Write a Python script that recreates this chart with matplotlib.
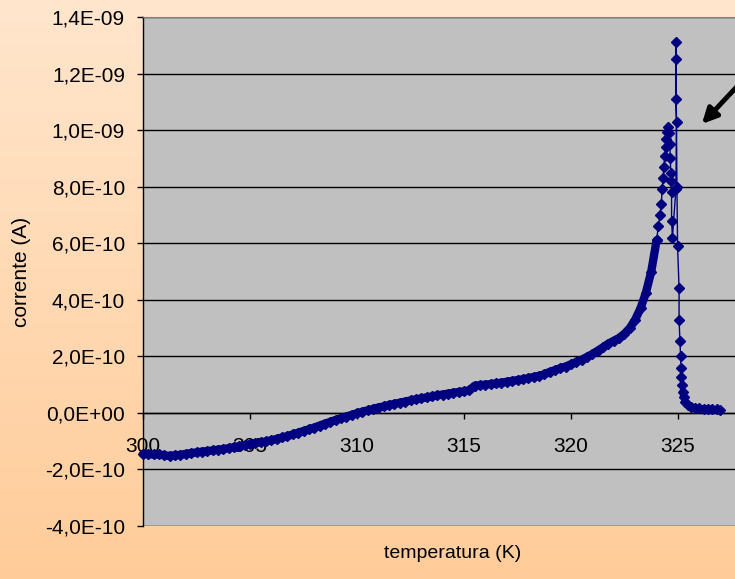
import matplotlib.pyplot as plt
import numpy as np
from matplotlib.ticker import FuncFormatter

# temperatura (K) e corrente (unidades de 1E-10 A)
temp = [300.0, 300.25, 300.5, 300.75, 301.0, 301.25, 301.5, 301.75,
        302.0, 302.25, 302.5, 302.75, 303.0, 303.25, 303.5, 303.75,
        304.0, 304.25, 304.5, 304.75, 305.0, 305.25, 305.5, 305.75,
        306.0, 306.25, 306.5, 306.75, 307.0, 307.25, 307.5, 307.75,
        308.0, 308.25, 308.5, 308.75, 309.0, 309.25, 309.5, 309.75,
        310.0, 310.25, 310.5, 310.75, 311.0, 311.25, 311.5, 311.75,
        312.0, 312.25, 312.5, 312.75, 313.0, 313.25, 313.5, 313.75,
        314.0, 314.25, 314.5, 314.75, 315.0, 315.25, 315.5, 315.75,
        316.0, 316.25, 316.5, 316.75, 317.0, 317.25, 317.5, 317.75,
        318.0, 318.25, 318.5, 318.75, 319.0, 319.25, 319.5, 319.75,
        320.0, 320.25, 320.5, 320.75, 321.0, 321.25, 321.5, 321.75,
        322.0, 322.25, 322.5, 322.75, 323.0, 323.25, 323.5, 323.75,
        324.0, 324.08, 324.16, 324.22, 324.26, 324.30, 324.34, 324.38,
        324.42, 324.46, 324.50, 324.55, 324.58, 324.62, 324.64, 324.66,
        324.68, 324.70, 324.70, 324.74, 324.90, 324.93, 324.90, 324.90,
        324.90, 324.95, 324.98, 325.05, 325.05, 325.09, 325.12, 325.14,
        325.16, 325.18, 325.22, 325.27, 325.35, 325.45, 325.6, 325.8,
        326.0, 326.2, 326.4, 326.6, 326.8, 326.95]
corr = [-1.45, -1.46, -1.47, -1.47, -1.50, -1.52, -1.50, -1.48,
        -1.45, -1.42, -1.40, -1.37, -1.35, -1.33, -1.30, -1.28,
        -1.25, -1.21, -1.18, -1.14, -1.11, -1.07, -1.04, -1.01,
        -0.97, -0.92, -0.87, -0.82, -0.76, -0.70, -0.64, -0.58,
        -0.52, -0.45, -0.38, -0.32, -0.25, -0.19, -0.13, -0.07,
        -0.01, 0.04, 0.09, 0.14, 0.19, 0.23, 0.28, 0.32,
        0.36, 0.40, 0.44, 0.48, 0.51, 0.55, 0.58, 0.62,
        0.65, 0.68, 0.71, 0.74, 0.76, 0.80, 0.96, 0.98,
        1.00, 1.02, 1.04, 1.07, 1.10, 1.13, 1.16, 1.19,
        1.23, 1.27, 1.31, 1.36, 1.45, 1.51, 1.58, 1.64,
        1.72, 1.80, 1.88, 1.98, 2.08, 2.20, 2.32, 2.45,
        2.55, 2.65, 2.80, 3.00, 3.30, 3.70, 4.25, 5.00,
        6.10, 6.60, 7.00, 7.40, 7.90, 8.30, 8.70, 9.10,
        9.40, 9.70, 9.95, 10.1, 9.90, 9.50, 9.00, 8.50,
        8.20, 7.80, 6.80, 6.20, 7.90, 10.3, 11.1, 12.5,
        13.1, 8.00, 5.90, 4.40, 3.30, 2.55, 2.00, 1.60,
        1.28, 1.00, 0.75, 0.55, 0.38, 0.28, 0.22, 0.18,
        0.16, 0.15, 0.14, 0.13, 0.12, 0.11]

temp = np.array(temp)
corr = np.array(corr) * 1e-10
# até 324 K os pontos são tão densos que formam uma faixa contínua
dense = temp[:97]
dense_c = corr[:97]
peak = temp[96:]
peak_c = corr[96:]
tail = temp[-12:]
tail_c = corr[-12:]

W, H = 735, 579
fig = plt.figure(figsize=(W / 100, H / 100), dpi=100)
plt.rcParams['font.family'] = ['Liberation Sans', 'DejaVu Sans']

# fundo em degradê
bg = fig.add_axes([0, 0, 1, 1], zorder=-10)
grad = np.linspace(0, 1, 256).reshape(-1, 1)
top = np.array([255, 230, 205]) / 255
bot = np.array([255, 204, 153]) / 255
img = top + (bot - top) * grad[:, :, None]
bg.imshow(img, aspect='auto', extent=[0, 1, 0, 1])
bg.axis('off')

x0, x1 = 143, 785
y0, y1 = 17, 526
ax = fig.add_axes([x0 / W, 1 - y1 / H, (x1 - x0) / W, (y1 - y0) / H])
ax.set_facecolor('#C0C0C0')

navy = '#000080'
ax.plot(dense, dense_c, color=navy, lw=6, solid_capstyle='round',
        marker='D', ms=5, clip_on=False, zorder=3)
ax.plot(peak, peak_c, color=navy, lw=1, marker='D', ms=5,
        clip_on=False, zorder=3)
ax.plot(tail, tail_c, color=navy, lw=5, solid_capstyle='round', zorder=3)

ax.set_xlim(300, 330)
ax.set_ylim(-4e-10, 1.4e-9)
ax.set_xticks(np.arange(300, 326, 5))
ax.set_yticks(np.arange(-4, 15, 2) * 1e-10)
ax.yaxis.set_major_formatter(FuncFormatter(lambda v, p: f"{v:.1E}".replace('.', ',')))

ax.grid(axis='y', color='black', lw=1)
ax.set_axisbelow(True)

ax.spines['bottom'].set_position(('data', 0))
ax.spines['bottom'].set_linewidth(1)
ax.spines['left'].set_linewidth(1)
ax.spines['top'].set_color('#808080')
ax.spines['right'].set_visible(False)

ax.tick_params(axis='y', direction='out', length=4.5, width=1, labelsize=15, pad=8.5)
ax.tick_params(axis='x', direction='out', length=4.5, width=1, labelsize=15, pad=13)

fig.text(22 / W, 1 - 272 / H, 'corrente (A)', rotation=90, fontsize=15,
         ha='center', va='center')
fig.text(453 / W, 1 - 553 / H, 'temperatura (K)', fontsize=14,
         ha='center', va='center')

# seta indicando o pico
ax.annotate('', xy=(700 / W, 1 - 126 / H), xytext=(745 / W, 1 - 78 / H),
            xycoords='figure fraction', textcoords='figure fraction',
            arrowprops=dict(arrowstyle='-|>,head_length=0.9,head_width=0.45',
                            color='black', lw=3.5))

fig.savefig('out.png', dpi=100)
